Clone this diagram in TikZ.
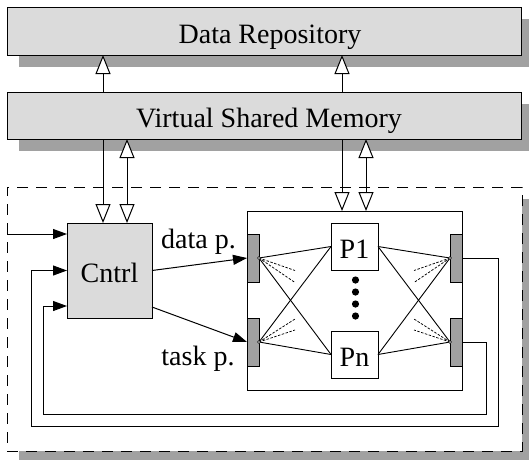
\documentclass[tikz,border=0pt]{standalone}
\usepackage{fontspec}
\setmainfont{Liberation Serif}
\usetikzlibrary{arrows.meta,shadows}

\definecolor{boxgray}{gray}{0.86}
\definecolor{shadegray}{gray}{0.63}

\begin{document}
\begin{tikzpicture}[x=1pt,y=-1pt,line width=1pt,
  every node/.style={font=\fontsize{28}{32}\selectfont},
  box/.style={draw,fill=boxgray,inner sep=0pt,outer sep=0pt,text height=23pt,text depth=0pt},
  shadowed/.style={general shadow={shadow xshift=12pt,shadow yshift=-12pt,fill=shadegray}},
  port/.style={draw,fill=shadegray,minimum width=12pt,minimum height=48pt,inner sep=0pt,outer sep=0pt},
  pe/.style={draw,fill=white,minimum width=47pt,minimum height=47pt,inner sep=0pt,outer sep=0pt,text height=23pt,text depth=0pt},
  txt/.style={anchor=base,inner sep=0pt},
  openhead/.style={-{Triangle[length=19pt,width=15pt,fill=white]}},
  bothopen/.style={{Triangle[length=19pt,width=15pt,fill=white]}-{Triangle[length=19pt,width=15pt,fill=white]}},
  solidhead/.style={-{Triangle[length=14pt,width=10pt]}},
  fan/.style={line width=0.75pt,dash pattern=on 2.5pt off 1.5pt},
  link/.style={line width=0.9pt},
]
\useasboundingbox (0,0) rectangle (529,459);

% dashed cluster holding controller and processor array
\node[draw,dash pattern=on 11pt off 8pt,fill=white,minimum width=515pt,minimum height=264pt,
      inner sep=0pt,outer sep=0pt,shadowed] (cluster) at (264.5,319) {};

% storage layers
\node[box,shadowed,minimum width=514pt,minimum height=48pt] (dr) at (264,31) {};
\node[txt] (drtext) at ([xshift=6pt,yshift=-12pt]dr.center) {Data Repository};
\node[box,shadowed,minimum width=514pt,minimum height=47pt] (vsm) at (264,115.5) {};
\node[txt] (vsmtext) at ([xshift=5pt,yshift=-11.5pt]vsm.center) {Virtual Shared Memory};

% controller
\node[box,minimum width=85pt,minimum height=95pt] (cntrl) at (109.5,270.5) {Cntrl};

% processor array with its ports
\node[draw,fill=white,minimum width=215pt,minimum height=179pt,inner sep=0pt,outer sep=0pt] (proc) at (354.5,300.5) {};
\node[port] (lp1) at (253,258) {};
\node[port] (lp2) at (253,342) {};
\node[port] (rp1) at (456,258) {};
\node[port] (rp2) at (456,342) {};
\node[pe] (p1) at (354.5,246.5) {P1};
\node[pe] (pn) at (354.5,354.5) {Pn};
\foreach \y in {280,292,304,316} \fill (355.5,\y) circle (3.6pt);

% interconnect between ports and processors
\foreach \s in {lp1,lp2} \foreach \t in {p1,pn} \draw[link] (\s.east) -- (\t.west);
\foreach \s in {rp1,rp2} \foreach \t in {p1,pn} \draw[link] (\s.west) -- (\t.east);
\draw[fan] (lp1.east) -- ++(36,12.5) (lp1.east) -- ++(36,24.5);
\draw[fan] (lp2.east) -- ++(36,-23) (lp2.east) -- ++(36,-12);
\draw[fan] (rp1.west) -- ++(-36,12.5) (rp1.west) -- ++(-36,24.5);
\draw[fan] (rp2.west) -- ++(-36,-23) (rp2.west) -- ++(-36,-12);
\foreach \p in {lp1.east,lp2.east,rp1.west,rp2.west}
  \draw[line width=0.6pt,fill=white] (\p) circle (1.5pt);

% vertical memory links
\coordinate (xa) at (103,0);
\coordinate (xb) at (127,0);
\coordinate (xc) at (342,0);
\coordinate (xd) at (366,0);
\draw[openhead] (vsm.north -| xa) -- (dr.south -| xa);
\draw[openhead] (vsm.north -| xc) -- (dr.south -| xc);
\draw[openhead] (vsm.south -| xa) -- (cntrl.north -| xa);
\draw[bothopen] (vsm.south -| xb) -- (cntrl.north -| xb);
\draw[openhead] (vsm.south -| xc) -- (proc.north -| xc);
\draw[bothopen] (vsm.south -| xd) -- (proc.north -| xd);

% controller outputs
\draw[solidhead] (cntrl.east) -- (lp1.west);
\draw[solidhead] ([yshift=-36.5pt]cntrl.east) -- (lp2.west);
\node[txt] (datalbl) at (198.5,248) {data p.};
\node[txt] (tasklbl) at (198,365.5) {task p.};

% controller inputs and feedback loops
\coordinate (in1) at ([yshift=36.5pt]cntrl.west);
\draw[solidhead] (cluster.west |- in1) -- (in1);
\coordinate (la) at (498,426.5);
\coordinate (lb) at (31,426.5);
\draw[solidhead] (rp1.east) -| (la) -- (lb) |- (cntrl.west);
\coordinate (lc) at (486,414);
\coordinate (ld) at (43,414);
\draw[solidhead] (rp2.east) -| (lc) -- (ld) |- ([yshift=-35.5pt]cntrl.west);
\end{tikzpicture}
\end{document}
